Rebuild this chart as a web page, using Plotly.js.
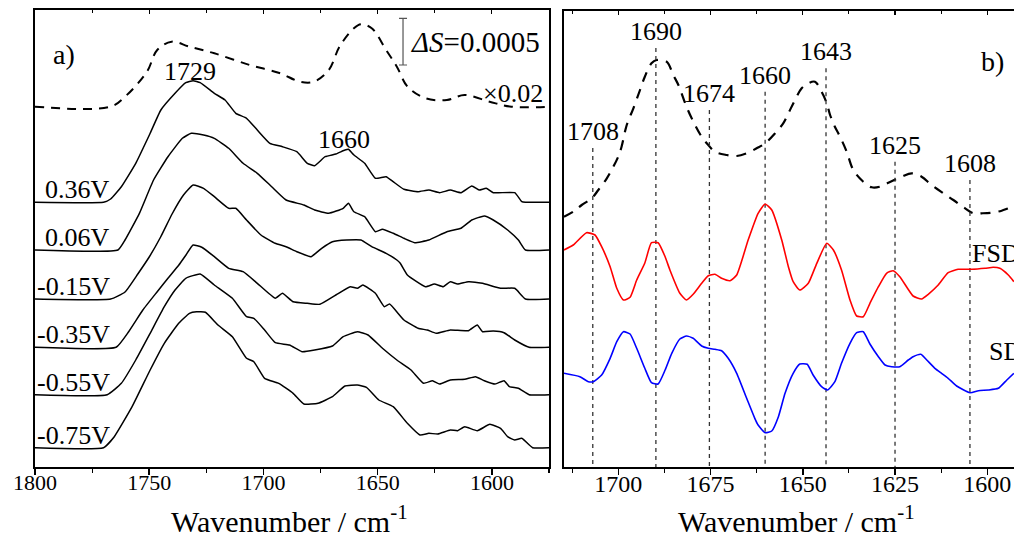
<!DOCTYPE html>
<html><head><meta charset="utf-8">
<script src="https://cdn.plot.ly/plotly-3.0.1.min.js"></script>
<style>html,body{margin:0;padding:0;background:#fff;} #chart{width:1014px;height:537px;}</style>
</head><body><div id="chart"></div>
<script>
// ================= Panel a) : stacked spectra (heights above each baseline, arbitrary units) =================
const aAvgWn = [1800,1767,1760.6,1751,1746.5,1740.2,1732.4,1721.5,1706,1693,1684,1678,1671.4,1666.7,1660.4,1657.3,1652.6,1646.3,1641.6,1636.9,1629,1619.7,1612,1601,1591.5,1575];
const aAvgH  = [0,0,10,35,56.7,65,60,53.4,41.7,33.7,25,25,36.7,60,78.4,82.4,78.4,56.7,40,20,8.4,6.7,11.7,5,0,0];

const a036Wn = [1800,1770,1766.9,1762.2,1755.9,1749.6,1744.9,1738.7,1734,1730.8,1727.7,1721.5,1716.8,1712.1,1707.4,1702.7,1697.2,1691.7,1685.4,1680.8,1677.6,1673,1668.3,1664.3,1662.8,1660.4,1655.7,1651,1646.3,1643.2,1638.5,1632.3,1627.6,1622.9,1618.2,1613.5,1608.8,1605.6,1602.5,1599.4,1590,1586.9,1585.3,1575];
const a036H  = [0,0,3.3,15.6,39,69,92.3,109,119.6,121.6,119.6,109,102.3,89,84,72.3,59,55.6,50.6,39,36.6,45.6,48.3,52.3,53,47.3,39,24,25.6,20.6,13,10.6,12.3,9.6,12.3,9.6,16.3,12.3,14,9.6,9.6,0.6,0,0];

const a006Wn = [1800,1763.7,1760.6,1754.3,1748.1,1741.8,1735.5,1731.6,1726.2,1721.5,1715.2,1708.9,1702.7,1696.4,1690.1,1682.3,1677.6,1671.4,1665.1,1662.8,1660.4,1655.7,1651,1647.9,1643.2,1638.5,1633.8,1627.6,1619.7,1613.5,1608.8,1603.3,1599.4,1593.1,1588.4,1585.3,1575];
const a006H  = [0,0,10,36.7,70,93.3,111.7,116.7,115,111.7,101.7,86.7,76.7,63.3,50,45,40,36.7,41.7,46.7,38.3,33.3,18.3,20.7,16.7,11.7,7.3,10,18.3,21.7,30,34,30,20,10,0,0];

const am015Wn = [1800,1766.9,1760.6,1755,1750,1745,1740,1735,1730.8,1726.2,1721.5,1715.2,1712.1,1707.4,1701.1,1694.9,1690.1,1685.4,1679.2,1674.5,1669.8,1663.6,1657.3,1652.6,1646.3,1641.6,1640.1,1637,1629.1,1625.2,1621.3,1618.2,1615,1610.3,1604.1,1596.2,1590,1585.3,1575];
const am015H  = [0,0,7,25,42,62,85,104,114,110.7,102.3,90.7,90.7,79,64,55.7,52.3,47.3,42.3,50.7,57.3,59,59,52.3,45.7,39,35.7,24,12.3,15,12.3,17.3,15,17.3,15.7,10.7,10.7,0,0];

const am035Wn = [1800,1764.5,1759,1752.8,1746.5,1741.8,1737.1,1734,1730.8,1727,1721.5,1715.2,1708.9,1702.7,1694.8,1691.7,1687,1680.8,1675.3,1668.3,1662,1658.9,1656.5,1651,1647.1,1644.8,1638.5,1632.3,1628.3,1624.4,1618.2,1610.3,1606.4,1604.1,1599.4,1594.7,1590,1583.7,1575];
const am035H  = [0,0,15.6,37.3,55.6,69,82,92,102.3,100,90.6,79,75.6,64,49,54,45.6,44,43,52.3,60.6,59,62.3,54,40.6,43.3,27.3,19,17.3,14,17.3,16.6,22.3,15.6,16.3,14.6,7.3,0,0];

const am055Wn = [1800,1768.4,1762.2,1755.9,1749.6,1743.4,1738.7,1734,1727.7,1721.5,1713.6,1707.4,1704.2,1699.5,1694.8,1688.6,1683.1,1677.6,1669.8,1665.1,1658.9,1654.2,1647.9,1641.6,1635.4,1629.9,1626,1622.9,1618.2,1611.9,1607.2,1603.3,1598.6,1594.7,1592.3,1588.4,1583.7,1575];
const am055H  = [0,0,11.4,34.7,61.4,88,104.7,116.4,120.7,109.7,96.4,78,76.4,64.7,52,49.7,43,44.7,48.7,58,63,59.7,46.4,34.7,24.7,11.4,14,10.7,14.7,15.4,18,14,10.7,14,8,6.4,0,0];

const am075Wn = [1800,1770,1765.3,1757.5,1749.6,1743.4,1737.1,1732.4,1729.3,1725.4,1719.9,1713.6,1707.4,1704.2,1699.5,1693.3,1687,1682.3,1676.1,1669.8,1664.3,1658.9,1654.9,1649.5,1643.2,1637,1631.5,1627.6,1623.7,1618.2,1615,1611.9,1606.4,1600.9,1596.2,1593.1,1590,1586.9,1582.2,1575];
const am075H  = [0,0,11,41,77.7,104.4,124.4,134.4,136,135.4,122.7,111,89.4,86,69.4,64.4,54.4,43.7,44.4,51,61.7,62.7,60.4,47.7,41,24.4,12.7,14.4,13.7,17.7,17,21,17,23.4,19.4,11,7.7,9.4,0,0];

const aOffsets = [360.3, 264.7, 217, 168, 119.7, 72.3, 19.3];
const aLabels  = ['', '0.36V', '0.06V', '-0.15V', '-0.35V', '-0.55V', '-0.75V'];
const aPeakLabels = ['1729', '1660'];
const aScaleBarText = '<i>\u0394S</i>=0.0005';
const aAvgFactorText = '\u00d70.02';

// ================= Panel b) =================
const bAvgWn = [1714.7,1712.2,1709.9,1707.2,1705.4,1703.1,1701.8,1700,1699.1,1697.7,1695.9,1694.1,1692.8,1691,1689.6,1686.9,1685.1,1683.7,1681.5,1679.2,1677.4,1675.6,1673.8,1670.6,1667.9,1665.2,1662.5,1660.2,1657.5,1655.3,1653.9,1652.1,1650.3,1648.5,1646.7,1644.9,1643.5,1642.6,1641.3,1639.9,1638.1,1636.3,1633.6,1631.3,1629.1,1626.8,1623.2,1620.5,1617.8,1615.1,1611.9,1609.2,1606,1603.8,1601.5,1598.8,1596.1,1594.3,1592.8];
const bAvgY  = [250.3,255.3,262,268.7,277,288.7,297,310.3,320.3,342,358.7,377,390.3,403.7,407,405.3,392,382,360.3,342,330.3,322,315.3,312,311,313.7,318.7,323.7,333.7,343.7,353.7,367,378.7,383.7,385.3,375.3,363.7,352,340.3,330.3,315.3,297,285.3,279.7,280.3,284.3,290.3,293.7,290.3,282,273.7,267,258.7,253.7,253.7,254.3,256.3,258.7,260.3];

const bFsdWn = [1714.7,1712.2,1708.6,1706.3,1704.5,1702.2,1700.4,1698.6,1696.8,1695,1692.8,1691,1689.2,1687.3,1686,1683.3,1681.5,1679.7,1677.4,1675.6,1673.8,1672,1669.7,1667.9,1664.8,1662.1,1660.2,1658.4,1655.7,1653.9,1652.6,1650.8,1648.5,1646.2,1643.5,1641.7,1639.5,1637.2,1635.4,1633.6,1631.8,1629.5,1627.3,1625.5,1623.7,1620.1,1617.8,1616,1613.3,1610.6,1607.9,1604.2,1600.6,1598.4,1596.6,1594.3,1592.8];
const bFsdY  = [217,222,234.3,232,220.3,200.3,178.7,167,169.7,187,204,224.3,224.3,210.3,197,173.7,167,172.7,183.7,191.3,192.7,188.7,186.3,192,227,253.7,263,257,227,200.3,185.3,177,183.7,203.7,223.7,217,197,167,151,150.3,163.7,180.3,193.7,196.3,190.3,171,168,172.7,182,194.3,197.7,197.7,198.7,199.7,198.7,192,185.3];

const bSdWn = [1714.7,1710.4,1708.1,1706.8,1704.5,1702.2,1700.4,1698.6,1696.8,1695,1692.8,1691,1689.2,1687.3,1685.5,1683.3,1681.5,1679.7,1677.4,1675.6,1673.8,1672,1670.2,1667.9,1665.2,1663,1662.1,1660.2,1658.4,1656.6,1654.8,1652.6,1650.8,1648.8,1647.2,1644.9,1643.3,1641.3,1639.5,1637.2,1635.4,1633.6,1631.8,1629.5,1627.7,1625.9,1623.7,1621.4,1620.1,1618,1616.4,1614.2,1612.4,1610.6,1608.3,1604.7,1602.4,1599.7,1597,1594.7,1592.8];
const bSdY  = [93.7,90.3,85.3,85.3,92,108.7,125.3,135.3,133,118.7,98.7,84.3,83,97,113.7,128,131,128.7,121,118.7,117.7,116.3,108.7,93.7,68.7,48.7,42,34.3,36,50.3,73.7,93.7,103,102.7,92,80.3,77,85.3,103.7,123.7,134.3,135.3,123,110.3,102,100.3,100.3,107,110.3,112.7,107,98.7,93.7,88.7,81,74.3,76.3,77,78.7,87,93.7];

const bBandPos    = [1706.9, 1689.8, 1675.3, 1660.2, 1643.7, 1625, 1604.7];
const bBandLabels = ['1708', '1690', '1674', '1660', '1643', '1625', '1608'];
const bBandTop    = [319, 419, 357, 375.3, 398.7, 305.3, 287];

// ================= Build =================
const serif = '"Liberation Serif", "Times New Roman", Times, serif';
const W = 1014, H = 537;
const fx = p => p / W;            // pixel x -> paper
const fy = p => (H - p) / H;      // pixel y -> paper

const traces = [];
const aSeries = [
  {wn: aAvgWn, h: aAvgH, dash: true},
  {wn: a036Wn, h: a036H}, {wn: a006Wn, h: a006H}, {wn: am015Wn, h: am015H},
  {wn: am035Wn, h: am035H}, {wn: am055Wn, h: am055H}, {wn: am075Wn, h: am075H}
];
aSeries.forEach((s, i) => {
  traces.push({
    type: 'scatter', mode: 'lines', xaxis: 'x', yaxis: 'y', hoverinfo: 'skip',
    x: s.wn, y: s.h.map(v => v + aOffsets[i]),
    line: {color: '#000', width: s.dash ? 2 : 1.5, dash: s.dash ? '9px,7px' : 'solid',
           shape: 'spline', smoothing: s.dash ? 1 : 0.4}
  });
});
// scale bar (Delta S = 0.0005)
const sbWn = 1638.9, sbCenter = 425.3, sbHalf = 23.3;
traces.push({type: 'scatter', mode: 'markers', xaxis: 'x', yaxis: 'y', hoverinfo: 'skip',
  x: [sbWn], y: [sbCenter], marker: {size: 2, color: 'rgba(0,0,0,0)'},
  error_y: {type: 'data', array: [sbHalf], visible: true, color: '#555', thickness: 1.2, width: 4}});

// panel b
traces.push({type: 'scatter', mode: 'lines', xaxis: 'x2', yaxis: 'y2', hoverinfo: 'skip',
  x: bAvgWn, y: bAvgY, line: {color: '#000', width: 2.2, dash: '10px,8px', shape: 'spline', smoothing: 1}});
bBandPos.forEach((p, i) => {
  traces.push({type: 'scatter', mode: 'lines', xaxis: 'x2', yaxis: 'y2', hoverinfo: 'skip',
    x: [p, p], y: [bBandTop[i], 0], line: {color: '#333', width: 1.3, dash: '4px,4px'}});
});
traces.push({type: 'scatter', mode: 'lines', xaxis: 'x2', yaxis: 'y2', hoverinfo: 'skip',
  x: bFsdWn, y: bFsdY, line: {color: '#ff0000', width: 1.6, shape: 'spline', smoothing: 0.5}});
traces.push({type: 'scatter', mode: 'lines', xaxis: 'x2', yaxis: 'y2', hoverinfo: 'skip',
  x: bSdWn, y: bSdY, line: {color: '#0000ff', width: 1.6, shape: 'spline', smoothing: 0.5}});
// empty traces so the overlay axes (inside top ticks, tick labels) are created
['x3', 'x5'].forEach(a => traces.push({type: 'scatter', mode: 'lines', x: [], y: [], xaxis: a, yaxis: 'y', hoverinfo: 'skip'}));
['x4', 'x6'].forEach(a => traces.push({type: 'scatter', mode: 'lines', x: [], y: [], xaxis: a, yaxis: 'y2', hoverinfo: 'skip'}));

const ann = [];
const txt = (o) => Object.assign({showarrow: false, xanchor: 'center', yanchor: 'middle', font: {family: serif, size: 26, color: '#000'}}, o);
// voltage labels
aLabels.forEach((t, i) => { if (t) ann.push(txt({xref: 'x', yref: 'y', x: 1766.3, y: aOffsets[i], xanchor: 'right', yanchor: 'bottom', yshift: -4, text: t})); });
ann.push(txt({xref: 'x', yref: 'y', x: 1787.3, y: 412, text: 'a)', font: {family: serif, size: 28, color: '#000'}}));
ann.push(txt({xref: 'x', yref: 'y', x: 1732.1, y: 395, text: aPeakLabels[0]}));
ann.push(txt({xref: 'x', yref: 'y', x: 1664.7, y: 328, text: aPeakLabels[1]}));
ann.push(txt({xref: 'x', yref: 'y', x: 1636.3, y: 425, xanchor: 'left', text: aScaleBarText, font: {family: serif, size: 29, color: '#000'}}));
ann.push(txt({xref: 'x', yref: 'y', x: 1576.7, y: 373, xanchor: 'right', text: aAvgFactorText}));
// band labels
bBandPos.forEach((p, i) => ann.push(txt({xref: 'x2', yref: 'y2', x: p, y: bBandTop[i], yanchor: 'bottom', text: bBandLabels[i]})));
ann.push(txt({xref: 'x2', yref: 'y2', x: 1598.5, y: 406, text: 'b)', font: {family: serif, size: 28, color: '#000'}}));
ann.push(txt({xref: 'x2', yref: 'y2', x: 1604.7, y: 214, xanchor: 'left', text: 'FSD'}));
ann.push(txt({xref: 'x2', yref: 'y2', x: 1600.1, y: 116, xanchor: 'left', text: 'SD'}));
// axis titles
ann.push(txt({xref: 'paper', yref: 'paper', x: fx(289), y: 0, yanchor: 'bottom', borderpad: 0, yshift: -2, text: 'Wavenumber / cm<sup>-1</sup>', font: {family: serif, size: 30, color: '#000'}}));
ann.push(txt({xref: 'paper', yref: 'paper', x: fx(796), y: 0, yanchor: 'bottom', borderpad: 0, yshift: -2, text: 'Wavenumber / cm<sup>-1</sup>', font: {family: serif, size: 30, color: '#000'}}));

const frame = {showline: true, linecolor: '#000', linewidth: 1.6, showgrid: false, zeroline: false};
const noFrame = {showline: false, showgrid: false, zeroline: false};
const aRange = [1800, 1575], bRange = [1714.7, 1592.76];
const layout = {
  width: W, height: H, margin: {l: 0, r: 0, t: 0, b: 0},
  paper_bgcolor: '#fff', plot_bgcolor: '#fff', showlegend: false,
  font: {family: serif, color: '#000'},
  // panel a: frame + outside bottom ticks
  xaxis: Object.assign({}, frame, {domain: [fx(35), fx(549)], range: aRange, anchor: 'y', mirror: true,
    tickmode: 'linear', tick0: 1600, dtick: 50, ticks: 'outside', ticklen: 6, tickwidth: 1.5, tickcolor: '#000',
    showticklabels: false,
    minor: {dtick: 25, ticks: 'outside', ticklen: 4, tickwidth: 1.2, tickcolor: '#000', showgrid: false}}),
  // panel a: inside ticks on top edge
  xaxis3: Object.assign({}, noFrame, {overlaying: 'x', side: 'top', anchor: 'y', range: aRange,
    tickmode: 'linear', tick0: 1600, dtick: 50, ticks: 'inside', ticklen: 4, tickwidth: 1.2, tickcolor: '#000', showticklabels: false,
    minor: {dtick: 25, ticks: 'inside', ticklen: 3, tickwidth: 1, tickcolor: '#000', showgrid: false}}),
  // panel a: tick labels (kept close to the axis like the reference)
  xaxis5: Object.assign({}, noFrame, {overlaying: 'x', side: 'bottom', anchor: 'y', range: aRange,
    tickmode: 'linear', tick0: 1600, dtick: 50, ticks: '', showticklabels: true,
    tickfont: {family: serif, size: 22, color: '#000'}}),
  yaxis: Object.assign({}, frame, {domain: [fy(467), fy(10)], range: [0, 457], anchor: 'x', mirror: true, showticklabels: false, ticks: ''}),
  // panel b
  xaxis2: Object.assign({}, frame, {domain: [fx(564), 1], range: bRange, anchor: 'y2', mirror: true,
    tickmode: 'linear', tick0: 1600, dtick: 25, ticks: 'outside', ticklen: 6, tickwidth: 1.5, tickcolor: '#000',
    showticklabels: false,
    minor: {dtick: 12.5, ticks: 'outside', ticklen: 4, tickwidth: 1.2, tickcolor: '#000', showgrid: false}}),
  xaxis4: Object.assign({}, noFrame, {overlaying: 'x2', side: 'top', anchor: 'y2', range: bRange,
    tickmode: 'linear', tick0: 1600, dtick: 25, ticks: 'inside', ticklen: 4, tickwidth: 1.2, tickcolor: '#000', showticklabels: false,
    minor: {dtick: 12.5, ticks: 'inside', ticklen: 3, tickwidth: 1, tickcolor: '#000', showgrid: false}}),
  xaxis6: Object.assign({}, noFrame, {overlaying: 'x2', side: 'bottom', anchor: 'y2', range: bRange,
    tickmode: 'linear', tick0: 1600, dtick: 25, ticks: '', showticklabels: true,
    tickfont: {family: serif, size: 24, color: '#000'}}),
  yaxis2: Object.assign({}, frame, {domain: [fy(467), fy(10.7)], range: [0, 456.3], anchor: 'x2', mirror: false, showticklabels: false, ticks: ''}),
  annotations: ann
};
Plotly.newPlot('chart', traces, layout, {staticPlot: true, displayModeBar: false});
</script></body></html>
